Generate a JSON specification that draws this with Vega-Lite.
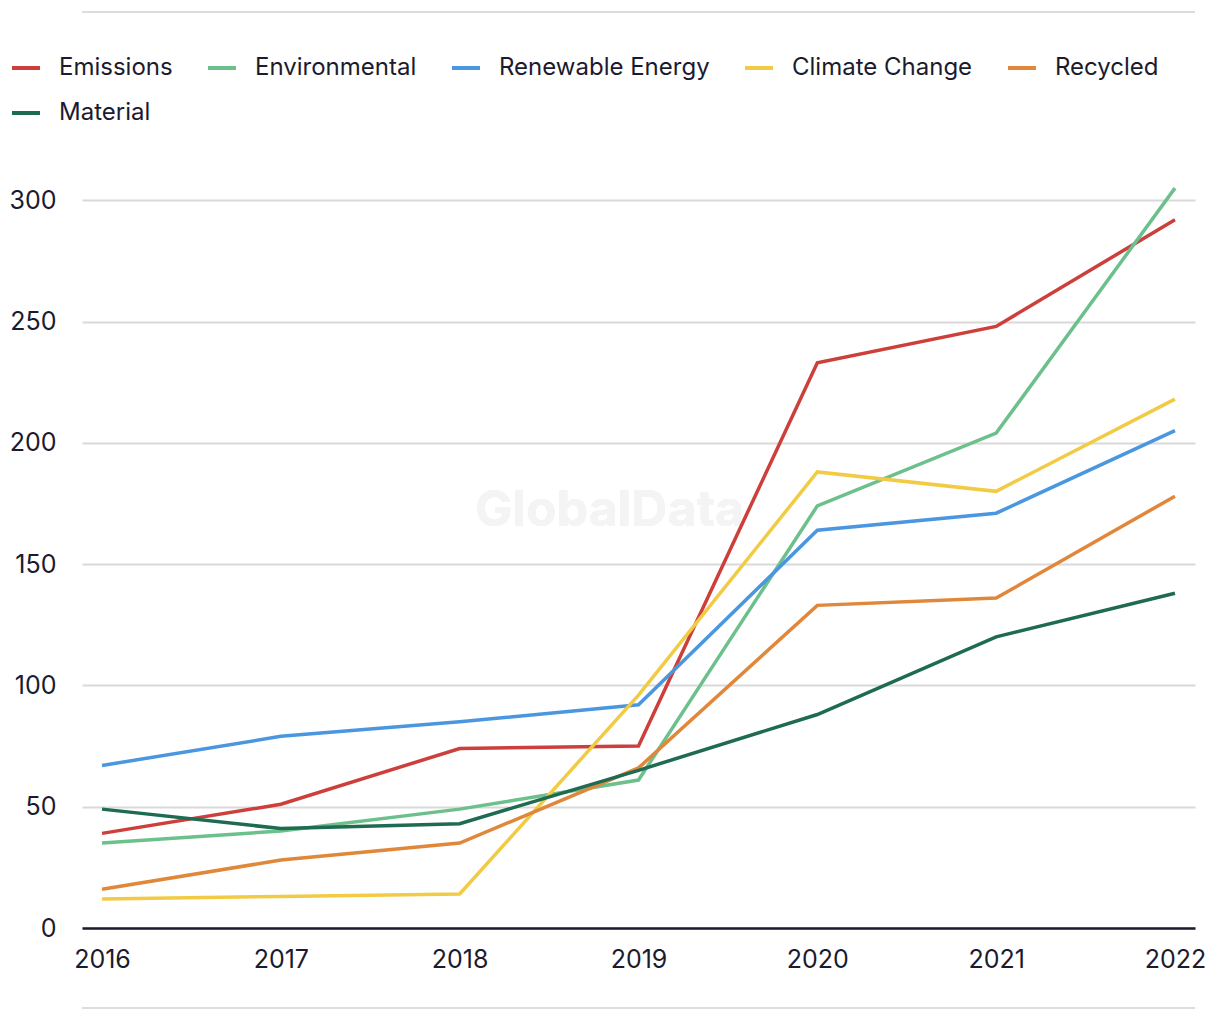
{
  "$schema": "https://vega.github.io/schema/vega-lite/v6.json",
  "autosize": {"type": "none"},
  "width": 1113,
  "height": 752,
  "padding": {"left": 82, "top": 176, "right": 25, "bottom": 92},
  "background": "white",
  "config": {
    "view": {"stroke": null},
    "font": "Inter",
    "axis": {"labelFont": "Inter", "labelColor": "#1b1b2f", "labelFontSize": 25, "title": null}
  },
  "data": {
    "values": [
      {"year": "2016", "series": "Emissions", "value": 39},
      {"year": "2017", "series": "Emissions", "value": 51},
      {"year": "2018", "series": "Emissions", "value": 74},
      {"year": "2019", "series": "Emissions", "value": 75},
      {"year": "2020", "series": "Emissions", "value": 233},
      {"year": "2021", "series": "Emissions", "value": 248},
      {"year": "2022", "series": "Emissions", "value": 292},
      {"year": "2016", "series": "Environmental", "value": 35},
      {"year": "2017", "series": "Environmental", "value": 40},
      {"year": "2018", "series": "Environmental", "value": 49},
      {"year": "2019", "series": "Environmental", "value": 61},
      {"year": "2020", "series": "Environmental", "value": 174},
      {"year": "2021", "series": "Environmental", "value": 204},
      {"year": "2022", "series": "Environmental", "value": 305},
      {"year": "2016", "series": "Renewable Energy", "value": 67},
      {"year": "2017", "series": "Renewable Energy", "value": 79},
      {"year": "2018", "series": "Renewable Energy", "value": 85},
      {"year": "2019", "series": "Renewable Energy", "value": 92},
      {"year": "2020", "series": "Renewable Energy", "value": 164},
      {"year": "2021", "series": "Renewable Energy", "value": 171},
      {"year": "2022", "series": "Renewable Energy", "value": 205},
      {"year": "2016", "series": "Climate Change", "value": 12},
      {"year": "2017", "series": "Climate Change", "value": 13},
      {"year": "2018", "series": "Climate Change", "value": 14},
      {"year": "2019", "series": "Climate Change", "value": 96},
      {"year": "2020", "series": "Climate Change", "value": 188},
      {"year": "2021", "series": "Climate Change", "value": 180},
      {"year": "2022", "series": "Climate Change", "value": 218},
      {"year": "2016", "series": "Recycled", "value": 16},
      {"year": "2017", "series": "Recycled", "value": 28},
      {"year": "2018", "series": "Recycled", "value": 35},
      {"year": "2019", "series": "Recycled", "value": 66},
      {"year": "2020", "series": "Recycled", "value": 133},
      {"year": "2021", "series": "Recycled", "value": 136},
      {"year": "2022", "series": "Recycled", "value": 178},
      {"year": "2016", "series": "Material", "value": 49},
      {"year": "2017", "series": "Material", "value": 41},
      {"year": "2018", "series": "Material", "value": 43},
      {"year": "2019", "series": "Material", "value": 65},
      {"year": "2020", "series": "Material", "value": 88},
      {"year": "2021", "series": "Material", "value": 120},
      {"year": "2022", "series": "Material", "value": 138}
    ]
  },
  "layer": [
    {
      "mark": {"type": "text", "font": "Inter", "fontWeight": "bold", "fontSize": 50, "color": "#f4f4f4", "dx": -29},
      "encoding": {
        "x": {"datum": "2019", "type": "ordinal"},
        "y": {"datum": 172, "type": "quantitative"},
        "text": {"value": "GlobalData"}
      }
    },
    {
      "mark": {"type": "rule", "color": "#dddddd", "strokeWidth": 2, "clip": false},
      "encoding": {"y": {"datum": 377.6, "type": "quantitative"}}
    },
    {
      "mark": {"type": "rule", "color": "#dddddd", "strokeWidth": 2, "clip": false},
      "encoding": {"y": {"datum": -33, "type": "quantitative"}}
    },
    {
      "mark": {"type": "line", "strokeWidth": 3.5, "clip": false},
      "encoding": {
        "x": {
          "field": "year",
          "type": "ordinal",
          "scale": {"type": "point", "padding": 0.112},
          "axis": {
            "labelAngle": 0,
            "labelAlign": "center",
            "ticks": false,
            "labelPadding": 31,
            "domainColor": "#1b1b2f",
            "domainWidth": 2.5,
            "grid": false
          }
        },
        "y": {
          "field": "value",
          "type": "quantitative",
          "scale": {"domain": [0, 310], "nice": false},
          "axis": {
            "values": [0, 50, 100, 150, 200, 250, 300],
            "grid": true,
            "gridColor": "#d9d9d9",
            "gridWidth": 2,
            "domain": false,
            "ticks": false,
            "labelPadding": 26
          }
        },
        "color": {
          "field": "series",
          "type": "nominal",
          "sort": ["Emissions", "Environmental", "Renewable Energy", "Climate Change", "Recycled", "Material"],
          "scale": {
            "domain": ["Emissions", "Environmental", "Renewable Energy", "Climate Change", "Recycled", "Material"],
            "range": ["#cc3f3a", "#6cc08b", "#4a97e0", "#f2cb45", "#e0873a", "#1e6b52"]
          },
          "legend": {
            "title": null,
            "orient": "none",
            "legendX": -72,
            "legendY": -124,
            "direction": "horizontal",
            "columns": 5,
            "columnPadding": 27,
            "rowPadding": 17,
            "padding": 0,
            "symbolType": "stroke",
            "symbolSize": 784,
            "symbolStrokeWidth": 4,
            "labelOffset": 17,
            "labelFont": "Inter",
            "labelFontSize": 24,
            "labelColor": "#1b1b2f",
            "labelLimit": 400
          }
        }
      }
    }
  ]
}
